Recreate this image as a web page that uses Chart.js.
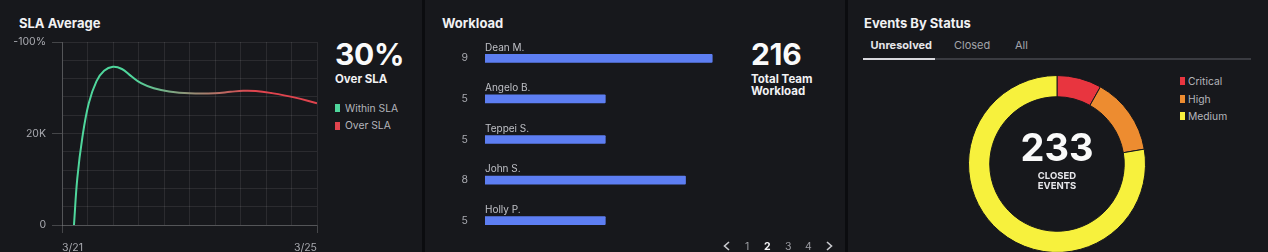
<!DOCTYPE html>
<html><head><meta charset="utf-8">
<script src="https://cdn.jsdelivr.net/npm/chart.js@4.4.1/dist/chart.umd.min.js"></script>
<style>
html,body{margin:0;padding:0;background:#17181c;width:1268px;height:252px;overflow:hidden;font-family:Inter,"Noto Sans",sans-serif;}
.a{position:absolute;line-height:1;white-space:nowrap;}
.sep{position:absolute;top:0;width:3px;height:252px;background:#0b0c0f;}
.title{font-size:13px;font-weight:700;color:#f1f1f3;top:16.5px;}
.big{font-size:30px;font-weight:700;color:#fafafa;top:39px;letter-spacing:-0.3px;}
.sub{font-size:11.5px;font-weight:700;color:#f1f1f3;}
.leg{font-size:10.3px;color:#b4b5bb;}
.sw{position:absolute;width:5px;height:8px;}
.pg{font-size:10.5px;color:#9c9da3;top:241.5px;}
.tab{font-size:11px;top:40.2px;}
canvas{position:absolute;}
</style></head>
<body>
<div class="sep" style="left:422px"></div>
<div class="sep" style="left:845px"></div>

<!-- Panel 1 -->
<div class="a title" style="left:19px">SLA Average</div>
<canvas id="sla" width="330" height="252" style="left:0;top:0"></canvas>
<div class="a big" style="left:335px">30%</div>
<div class="a sub" style="left:335px;top:73.5px">Over SLA</div>
<div class="sw" style="left:335px;top:103.5px;background:#4fd69c"></div>
<div class="a leg" style="left:345px;top:102.6px">Within SLA</div>
<div class="sw" style="left:335px;top:121.5px;background:#e0444e"></div>
<div class="a leg" style="left:345px;top:120.3px">Over SLA</div>

<!-- Panel 2 -->
<div class="a title" style="left:442px">Workload</div>
<canvas id="work" width="314" height="252" style="left:425px;top:0"></canvas>
<div class="a big" style="left:751px">216</div>
<div class="a sub" style="left:751px;top:73.5px">Total Team</div>
<div class="a sub" style="left:751px;top:86.3px">Workload</div>
<svg class="a" style="left:722px;top:241px" width="9" height="10"><polyline points="7,1 2.5,5 7,9" fill="none" stroke="#c8c9ce" stroke-width="1.6"/></svg>
<div class="a pg" style="left:745px">1</div>
<div class="a pg" style="left:764px;color:#f4f4f6;font-weight:700">2</div>
<div class="a pg" style="left:785px">3</div>
<div class="a pg" style="left:805px">4</div>
<svg class="a" style="left:825px;top:241px" width="9" height="10"><polyline points="2,1 6.5,5 2,9" fill="none" stroke="#c8c9ce" stroke-width="1.6"/></svg>

<!-- Panel 3 -->
<div class="a title" style="left:864px">Events By Status</div>
<div class="a tab" style="left:870.5px;color:#e6e6ea;font-weight:700">Unresolved</div>
<div class="a tab" style="left:954px;color:#a3a4aa">Closed</div>
<div class="a tab" style="left:1015px;color:#a3a4aa">All</div>
<div class="a" style="left:863px;top:58px;width:388px;height:2px;background:#3a3b41"></div>
<div class="a" style="left:863px;top:58px;width:72px;height:2px;background:#d9d9de"></div>
<canvas id="ev" width="178" height="178" style="left:968px;top:75px"></canvas>
<div class="a" style="left:957px;width:200px;text-align:center;top:127.8px;font-size:38px;font-weight:700;color:#fafafa">233</div>
<div class="a" style="left:957px;width:200px;text-align:center;top:170.7px;font-size:9.5px;font-weight:700;color:#e8e8ec">CLOSED</div>
<div class="a" style="left:957px;width:200px;text-align:center;top:181.4px;font-size:9.5px;font-weight:700;color:#e8e8ec">EVENTS</div>
<div class="sw" style="left:1180px;top:77px;background:#e8353f"></div>
<div class="a leg" style="left:1188px;top:75.9px">Critical</div>
<div class="sw" style="left:1180px;top:94.7px;background:#ed8c30"></div>
<div class="a leg" style="left:1188px;top:93.6px">High</div>
<div class="sw" style="left:1180px;top:112.4px;background:#f7f13d"></div>
<div class="a leg" style="left:1188px;top:111.3px">Medium</div>

<script>
// ---------- data ----------
const slaX = [0.47, 0.6, 0.8, 1.05, 1.35, 1.65, 2.0, 2.35, 2.7, 3.1, 3.6, 4.2, 5.0, 6.0, 6.6, 7.1, 7.6, 8.2, 9.1, 10.0];
const slaY = [0, 10.2, 19.2, 26.6, 31.4, 33.7, 34.6, 34.1, 32.6, 31.0, 29.9, 29.2, 28.8, 28.8, 29.1, 29.35, 29.3, 28.85, 27.9, 26.6]; // in K
const slaXTicks = ['3/21', '', '', '', '', '', '', '', '', '', '3/25'];
const slaYTickLabels = {0: '0', 20: '20K', 40: '-100%'};

const workNames = ['Dean M.', 'Angelo B.', 'Teppei S.', 'John S.', 'Holly P.'];
const workValues = [9, 5, 5, 8, 5];

const eventLabels = ['Critical', 'High', 'Medium'];
const eventValues = [19, 33, 181];

// ---------- colours ----------
const GREEN = '#4fd69c', RED = '#e0444e';
const GRID = 'rgba(255,255,255,0.085)', AXIS = 'rgba(255,255,255,0.2)';
const TICK = '#a9aab0';
const FONT = 'Inter';

Chart.defaults.animation = false;
Chart.defaults.font.family = FONT;

// ---------- SLA line ----------
new Chart(document.getElementById('sla'), {
  type: 'line',
  data: {
    datasets: [{
      data: slaX.map((x, i) => ({x, y: slaY[i]})),
      borderWidth: 2,
      pointRadius: 0,
      tension: 0.4,
      borderColor: (ctx) => {
        const a = ctx.chart.chartArea;
        if (!a) return GREEN;
        const g = ctx.chart.ctx.createLinearGradient(a.left, 0, a.right, 0);
        g.addColorStop(0, GREEN); g.addColorStop(0.28, GREEN);
        g.addColorStop(0.75, RED); g.addColorStop(1, RED);
        return g;
      }
    }]
  },
  options: {
    responsive: false,
    layout: {padding: {top: 42, right: 13, left: 0, bottom: 0}},
    plugins: {legend: {display: false}, tooltip: {enabled: false}},
    scales: {
      x: {
        type: 'linear', min: 0, max: 10,
        afterFit: s => { s.height = 27; },
        grid: {color: GRID, tickLength: 8, tickColor: c => (slaXTicks[c.index] ? AXIS : 'transparent')},
        border: {color: AXIS},
        ticks: {stepSize: 1, autoSkip: false, maxRotation: 0, align: 'inner', padding: 9,
          color: TICK, font: {size: 10.5}, callback: (v, i) => slaXTicks[i]}
      },
      y: {
        min: 0, max: 40,
        afterFit: s => { s.width = 62; },
        grid: {color: GRID, tickLength: 10, tickColor: c => (slaYTickLabels[c.tick.value] !== undefined ? AXIS : 'transparent')},
        border: {color: AXIS},
        ticks: {stepSize: 4, autoSkip: false, padding: 6, color: TICK, font: {size: 10.5},
          callback: v => (slaYTickLabels[v] !== undefined ? slaYTickLabels[v] : '')}
      }
    }
  }
});

// ---------- Workload bars ----------
const nameLabels = {
  id: 'nameLabels',
  afterDatasetsDraw(chart) {
    const ctx = chart.ctx;
    const meta = chart.getDatasetMeta(0);
    ctx.save();
    ctx.font = '10px ' + FONT;
    ctx.fillStyle = '#bfc0c6';
    ctx.textAlign = 'left';
    ctx.textBaseline = 'alphabetic';
    meta.data.forEach((bar, i) => {
      ctx.fillText(workNames[i], chart.chartArea.left, bar.y - 4 - 3.7);
    });
    ctx.restore();
  }
};
new Chart(document.getElementById('work'), {
  type: 'bar',
  data: {
    labels: workNames,
    datasets: [{data: workValues, backgroundColor: '#5d7ef2', barThickness: 8, borderRadius: 1, borderSkipped: false}]
  },
  options: {
    responsive: false,
    indexAxis: 'y',
    layout: {padding: {top: 38, bottom: 11, left: 0, right: 0}},
    plugins: {legend: {display: false}, tooltip: {enabled: false}},
    scales: {
      x: {
        min: 0.5, max: 10,
        afterFit: s => { s.height = 0; },
        ticks: {display: false},
        grid: {display: false, drawTicks: false},
        border: {display: false}
      },
      y: {
        afterFit: s => { s.width = 60; },
        grid: {display: true, drawOnChartArea: false, drawTicks: true, tickLength: 17, color: 'transparent', tickColor: 'transparent'},
        border: {display: false},
        ticks: {padding: 0, color: TICK, font: {size: 10.5}, callback: (v, i) => String(workValues[i])}
      }
    }
  },
  plugins: [nameLabels]
});

// ---------- Events doughnut ----------
new Chart(document.getElementById('ev'), {
  type: 'doughnut',
  data: {
    labels: eventLabels,
    datasets: [{data: eventValues, backgroundColor: ['#e8353f', '#ed8c30', '#f7f13d'], borderColor: '#17181c', borderWidth: 1}]
  },
  options: {
    responsive: false,
    cutout: '76%',
    plugins: {legend: {display: false}, tooltip: {enabled: false}}
  }
});
</script>
</body></html>
